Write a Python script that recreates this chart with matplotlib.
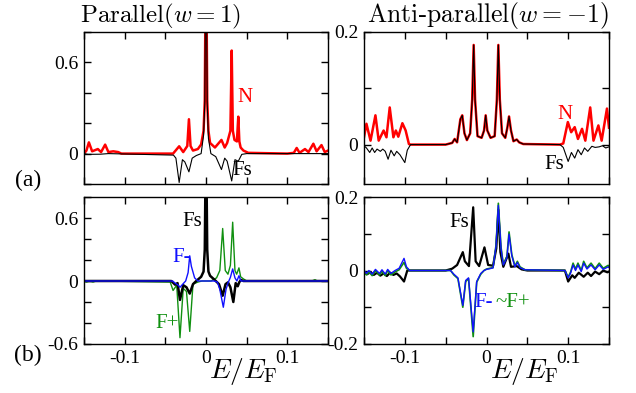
import numpy as np
import matplotlib
matplotlib.use('Agg')
import matplotlib.pyplot as plt

plt.rcParams['font.family'] = 'serif'
plt.rcParams['font.serif'] = ['Liberation Serif', 'DejaVu Serif']
plt.rcParams['mathtext.fontset'] = 'cm'

# ---- (a) parallel : N and Fs ----
pa_n_x = [-0.150, -0.147, -0.144, -0.140, -0.133, -0.129, -0.124, -0.120, -0.114, -0.108, -0.104,
          -0.060, -0.0405, -0.033, -0.028, -0.023, -0.021, -0.019, -0.016, -0.010, -0.006, -0.003,
          -0.0015, 0.0, 0.0015, 0.003, 0.005, 0.011, 0.019, 0.023, 0.026, 0.030, 0.0316, 0.033,
          0.035, 0.038, 0.0397, 0.041, 0.0426, 0.046, 0.052, 0.100, 0.108, 0.1115, 0.115, 0.1217,
          0.126, 0.132, 0.136, 0.142, 0.146, 0.150]
pa_n_y = [0.0, 0.02, 0.074, 0.015, 0.03, 0.01, 0.059, 0.01, 0.015, 0.01, 0.0,
          0.0, 0.0, 0.048, 0.01, 0.05, 0.226, 0.05, 0.02, 0.03, 0.06, 0.15,
          0.35, 1.5, 0.35, 0.15, 0.07, 0.04, 0.09, 0.04, 0.07, 0.15, 0.678, 0.15,
          0.09, 0.08, 0.243, 0.08, 0.04, 0.02, 0.005, 0.0, 0.005, 0.037, 0.005, 0.03,
          0.01, 0.065, 0.015, 0.056, 0.01, 0.02]
pa_fs_x = [-0.150, -0.145, -0.130, -0.120, -0.040, -0.037, -0.033, -0.029, -0.026, -0.021, -0.017,
           -0.012, -0.006, -0.003, -0.0015, 0.0, 0.0015, 0.003, 0.006, 0.012, 0.019, 0.023,
           0.026, 0.0316, 0.0356, 0.0397, 0.044, 0.050, 0.150]
pa_fs_y = [0.0, -0.005, -0.004, 0.0, -0.01, -0.03, -0.19, -0.04, -0.055, -0.12, -0.03,
           -0.013, 0.0, 0.12, 0.33, 1.5, 0.33, 0.1, 0.0, -0.02, -0.105, -0.03,
           -0.05, -0.18, -0.04, -0.05, -0.005, 0.0, 0.0]

# ---- (a) anti-parallel : N and Fs ----
ap_center_x = [-0.093, -0.050, -0.042, -0.039, -0.036, -0.032, -0.0297, -0.027, -0.024, -0.020,
               -0.0175, -0.0157, -0.014, -0.011, -0.006, -0.003, -0.001, 0.001, 0.005, 0.010,
               0.0127, 0.0145, 0.0163, 0.019, 0.023, 0.0255, 0.0276, 0.030, 0.033, 0.037,
               0.040, 0.045, 0.090]
ap_center_y = [0.0, 0.0, 0.003, 0.01, 0.004, 0.045, 0.052, 0.02, 0.008, 0.02,
               0.08, 0.177, 0.08, 0.015, 0.012, 0.025, 0.052, 0.025, 0.012, 0.015,
               0.08, 0.177, 0.08, 0.02, 0.012, 0.03, 0.05, 0.025, 0.006, 0.009,
               0.004, 0.001, 0.0]
ap_n_left_x = [-0.150, -0.147, -0.142, -0.136, -0.132, -0.126, -0.1225, -0.1185, -0.114, -0.111,
               -0.108, -0.103, -0.099, -0.095]
ap_n_left_y = [0.013, 0.037, 0.007, 0.052, 0.007, 0.025, 0.013, 0.066, 0.013, 0.025,
               0.014, 0.038, 0.025, 0.001]
ap_n_right_x = [0.094, 0.0996, 0.1037, 0.108, 0.112, 0.117, 0.121, 0.127, 0.131, 0.137, 0.141,
                0.1475, 0.150]
ap_n_right_y = [0.002, 0.04, 0.022, 0.031, 0.01, 0.028, 0.007, 0.066, 0.007, 0.034, 0.007,
                0.064, 0.03]
ap_fs_left_x = [-0.150, -0.147, -0.143, -0.140, -0.137, -0.134, -0.130, -0.127, -0.124, -0.1205,
                -0.117, -0.113, -0.110, -0.106, -0.100, -0.097]
ap_fs_left_y = [-0.002, -0.006, -0.014, -0.006, -0.014, -0.008, -0.012, -0.008, -0.012, -0.026,
                -0.01, -0.02, -0.012, -0.018, -0.032, -0.01]
ap_fs_right_x = [0.094, 0.100, 0.104, 0.108, 0.112, 0.116, 0.120, 0.124, 0.129, 0.133, 0.138,
                 0.142, 0.146, 0.150]
ap_fs_right_y = [-0.005, -0.03, -0.014, -0.024, -0.009, -0.018, -0.006, -0.012, -0.003, -0.005,
                 -0.004, -0.002, -0.006, -0.004]

# ---- (b) parallel : Fs, F-, F+ ----
pb_fs_x = [-0.150, -0.0426, -0.038, -0.035, -0.032, -0.028, -0.024, -0.020, -0.016, -0.012,
           -0.006, -0.003, -0.0015, 0.0, 0.0015, 0.003, 0.005, 0.010, 0.016, 0.0205, 0.024,
           0.027, 0.030, 0.0336, 0.0365, 0.039, 0.041, 0.043, 0.046, 0.150]
pb_fs_y = [0.0, 0.0, -0.035, -0.02, -0.18, -0.04, -0.06, -0.12, -0.03, 0.0,
           0.04, 0.09, 0.3, 1.5, 0.3, 0.09, 0.05, 0.015, -0.03, -0.14, -0.03,
           -0.013, -0.06, -0.2, -0.02, -0.05, -0.01, 0.01, 0.0, 0.0]
pb_fm_x = [-0.150, -0.041, -0.038, -0.034, -0.032, -0.028, -0.025, -0.022, -0.020, -0.018,
           -0.014, -0.010, 0.010, 0.014, 0.017, 0.0213, 0.0246, 0.027, 0.030, 0.0328,
           0.0356, 0.038, 0.0405, 0.043, 0.150]
pb_fm_y = [0.0, 0.0, -0.02, -0.04, -0.06, -0.025, 0.0, 0.08, 0.24, 0.14,
           0.03, 0.0, 0.0, -0.01, -0.08, -0.25, -0.08, -0.02, 0.035, 0.115,
           0.03, 0.0, 0.05, 0.0, 0.0]
pb_fp_x = [-0.150, -0.147, -0.143, -0.139, -0.135, -0.130, -0.044, -0.0405, -0.036, -0.032,
           -0.028, -0.024, -0.020, -0.016, -0.010, -0.005, 0.006, 0.013, 0.017, 0.0205,
           0.0237, 0.027, 0.030, 0.0328, 0.0356, 0.0377, 0.0405, 0.0426, 0.046, 0.050,
           0.130, 0.134, 0.137, 0.150]
pb_fp_y = [0.0, -0.01, 0.0, -0.01, 0.0, 0.0, -0.01, -0.09, -0.04, -0.54,
           -0.07, -0.1, -0.48, -0.03, -0.01, 0.0, 0.0, 0.03, 0.1, 0.5,
           0.1, 0.065, 0.15, 0.56, 0.1, 0.065, 0.125, 0.04, 0.02, 0.0,
           0.0, 0.012, 0.0, 0.0]

# ---- (b) anti-parallel : Fs, F-, F+ ----
apb_fs_x = [-0.150, -0.146, -0.142, -0.138, -0.134, -0.130, -0.126, -0.122, -0.118, -0.114,
            -0.110, -0.106, -0.101, -0.097, -0.050, -0.042, -0.036, -0.029, -0.0265, -0.0215,
            -0.0163, -0.0133, -0.009, -0.0025, 0.002, 0.008, 0.012, 0.0145, 0.017, 0.0206,
            0.0268, 0.030, 0.037, 0.043, 0.050, 0.096, 0.100, 0.105, 0.108, 0.113,
            0.119, 0.124, 0.128, 0.133, 0.138, 0.143, 0.148, 0.150]
apb_fs_y = [-0.006, -0.01, -0.004, -0.012, -0.006, -0.014, -0.008, -0.015, -0.006, -0.012,
            -0.008, -0.016, -0.03, 0.0, 0.0, 0.005, 0.015, 0.05, 0.025, 0.012,
            0.172, 0.025, 0.012, 0.063, 0.015, 0.013, 0.06, 0.165, 0.05, 0.01,
            0.046, 0.01, 0.012, 0.003, 0.0, 0.0, -0.03, -0.013, -0.02, -0.006,
            -0.017, -0.006, -0.015, -0.003, -0.01, 0.0, -0.005, -0.003]
apb_fm_x = [-0.150, -0.147, -0.144, -0.140, -0.136, -0.131, -0.128, -0.124, -0.121, -0.117,
            -0.112, -0.107, -0.101, -0.098, -0.094, -0.044, -0.040, -0.035, -0.029, -0.0255,
            -0.022, -0.0163, -0.012, -0.007, -0.003, 0.0, 0.008, 0.0117, 0.0145, 0.0178,
            0.0206, 0.025, 0.0276, 0.031, 0.0348, 0.0378, 0.041, 0.047, 0.096, 0.100,
            0.103, 0.106, 0.109, 0.112, 0.116, 0.119, 0.123, 0.128, 0.133, 0.138,
            0.143, 0.149, 0.150]
apb_fm_y = [0.0, -0.008, 0.0, -0.01, 0.003, -0.008, 0.002, -0.01, 0.003, -0.008,
            0.0, 0.006, 0.033, 0.01, 0.0, 0.0, -0.01, -0.02, -0.095, -0.027,
            -0.02, -0.167, -0.03, -0.008, 0.0, 0.003, 0.007, 0.067, 0.177, 0.06,
            0.015, 0.035, 0.099, 0.04, 0.01, 0.022, 0.008, 0.002, 0.0, -0.02,
            -0.007, 0.015, 0.0, 0.015, -0.003, 0.02, 0.004, 0.015, 0.002, 0.015,
            0.003, 0.01, 0.008]
apb_fp_x = [-0.150, -0.147, -0.144, -0.140, -0.136, -0.131, -0.128, -0.124, -0.121, -0.117,
            -0.112, -0.107, -0.101, -0.098, -0.094, -0.044, -0.040, -0.035, -0.029, -0.0255,
            -0.022, -0.0163, -0.012, -0.007, -0.003, 0.0, 0.008, 0.0117, 0.0145, 0.0178,
            0.0206, 0.025, 0.0276, 0.031, 0.0348, 0.0378, 0.041, 0.047, 0.096, 0.100,
            0.103, 0.106, 0.109, 0.112, 0.116, 0.119, 0.123, 0.128, 0.133, 0.138,
            0.143, 0.149, 0.150]
apb_fp_y = [-0.003, -0.012, -0.004, -0.014, 0.0, -0.012, -0.002, -0.014, 0.0, -0.012,
            -0.004, 0.002, 0.022, 0.006, 0.0, 0.0, -0.012, -0.022, -0.1, -0.03,
            -0.022, -0.18, -0.032, -0.01, 0.0, 0.004, 0.008, 0.07, 0.183, 0.063,
            0.017, 0.038, 0.105, 0.043, 0.012, 0.025, 0.01, 0.002, 0.0, -0.018,
            -0.004, 0.02, 0.004, 0.02, 0.0, 0.025, 0.007, 0.02, 0.005, 0.02,
            0.006, 0.014, 0.01]

xticks = [-0.15, -0.1, -0.05, 0.0, 0.05, 0.1, 0.15]
xticklabels = ['', '-0.1', '', '0', '', '0.1', '']

RED = '#ff0000'
BLUE = '#1010ff'
GREEN = '#109010'

fig = plt.figure(figsize=(6.36, 3.93), dpi=100)
W, H = 636.0, 393.0


def make_axes(l, r, t, b):
    return fig.add_axes([l / W, 1 - b / H, (r - l) / W, (b - t) / H])


ax1 = make_axes(84, 328, 32, 184)
ax2 = make_axes(364, 609, 32, 184)
ax3 = make_axes(84, 328, 197, 344)
ax4 = make_axes(364, 609, 197, 344)

# (a) parallel
ax1.plot(pa_n_x, pa_n_y, color=RED, lw=1.8)
ax1.plot(pa_fs_x, pa_fs_y, color='black', lw=0.8)
ax1.set_ylim(-0.2, 0.8)
ax1.set_yticks([-0.2, 0.0, 0.2, 0.4, 0.6, 0.8])
ax1.set_yticklabels(['', '0', '', '', '0.6', ''])
ax1.text(0.039, 0.37, 'N', color=RED, fontsize=15, ha='left', va='center')
ax1.text(0.033, -0.11, 'Fs', color='black', fontsize=15, ha='left', va='center')

# (a) anti-parallel
ap_n_x = ap_n_left_x + ap_center_x + ap_n_right_x
ap_n_y = ap_n_left_y + ap_center_y + ap_n_right_y
ap_fs_x = ap_fs_left_x + ap_center_x + ap_fs_right_x
ap_fs_y = ap_fs_left_y + ap_center_y + ap_fs_right_y
ax2.plot(ap_n_x, ap_n_y, color=RED, lw=1.8)
ax2.plot(ap_fs_x, ap_fs_y, color='black', lw=0.8)
ax2.set_ylim(-0.07, 0.2)
ax2.set_yticks([0.0, 0.1, 0.2])
ax2.set_yticklabels(['0', '', '0.2'])
ax2.text(0.096, 0.054, 'N', color=RED, fontsize=15, ha='center', va='center')
ax2.text(0.083, -0.035, 'Fs', color='black', fontsize=15, ha='center', va='center')

# (b) parallel
ax3.plot(pb_fp_x, pb_fp_y, color=GREEN, lw=1.0)
ax3.plot(pb_fs_x, pb_fs_y, color='black', lw=1.8)
ax3.plot(pb_fm_x, pb_fm_y, color=BLUE, lw=1.0)
ax3.set_ylim(-0.6, 0.8)
ax3.set_yticks([-0.6, -0.4, -0.2, 0.0, 0.2, 0.4, 0.6, 0.8])
ax3.set_yticklabels(['-0.6', '', '', '0', '', '', '0.6', ''])
ax3.text(-0.017, 0.57, 'Fs', color='black', fontsize=15, ha='center', va='center')
ax3.text(-0.030, 0.22, 'F-', color=BLUE, fontsize=15, ha='center', va='center')
ax3.text(-0.048, -0.40, 'F+', color=GREEN, fontsize=15, ha='center', va='center')

# (b) anti-parallel
ax4.plot(apb_fs_x, apb_fs_y, color='black', lw=1.6)
ax4.plot(apb_fp_x, apb_fp_y, color=GREEN, lw=1.2)
ax4.plot(apb_fm_x, apb_fm_y, color=BLUE, lw=1.0)
ax4.set_ylim(-0.2, 0.2)
ax4.set_yticks([-0.2, -0.1, 0.0, 0.1, 0.2])
ax4.set_yticklabels(['-0.2', '', '0', '', '0.2'])
ax4.text(-0.033, 0.13, 'Fs', color='black', fontsize=15, ha='center', va='center')
ax4.text(-0.003, -0.086, 'F-', color=BLUE, fontsize=15, ha='center', va='center')
ax4.text(0.0115, -0.086, '~F+', color=GREEN, fontsize=15, ha='left', va='center')

for ax in (ax1, ax2, ax3, ax4):
    ax.set_xlim(-0.15, 0.15)
    ax.set_xticks(xticks)
    ax.tick_params(direction='in', top=True, right=True, length=5, width=1,
                   labelsize=14, pad=4)
    for s in ax.spines.values():
        s.set_linewidth(1.0)

for ax in (ax1, ax2):
    ax.set_xticklabels([])
for ax in (ax3, ax4):
    ax.set_xticklabels(xticklabels)
    ax.text(0.655, -0.19, r'$E/E_{\rm F}$', transform=ax.transAxes, fontsize=20,
            ha='center', va='center')

fig.text(161 / W, 1 - 22 / H, r'$\mathrm{Parallel}(w=1)$', fontsize=18,
         ha='center', va='baseline')
fig.text(488 / W, 1 - 22 / H, r'$\mathrm{Anti}$-$\mathrm{parallel}(w=-1)$', fontsize=18.5,
         ha='center', va='baseline')
fig.text(28 / W, 1 - 180 / H, '(a)', fontsize=17, ha='center', va='center')
fig.text(28 / W, 1 - 355 / H, '(b)', fontsize=17, ha='center', va='center')

fig.savefig('out.png', dpi=100)
